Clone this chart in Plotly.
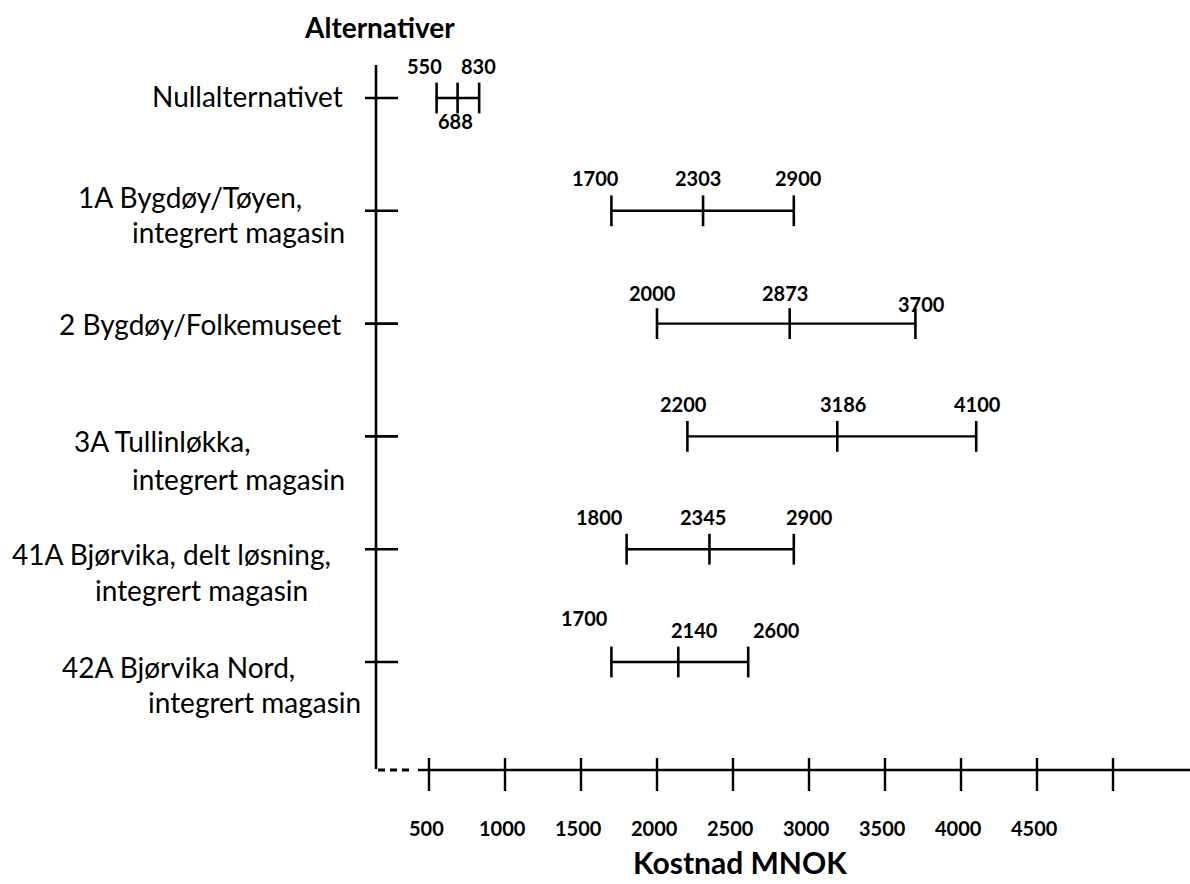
import plotly.graph_objects as go

# ---------------- data ----------------
categories = [
    "Nullalternativet",
    "1A Bygdøy/Tøyen,\nintegrert magasin",
    "2 Bygdøy/Folkemuseet",
    "3A Tullinløkka,\nintegrert magasin",
    "41A Bjørvika, delt løsning,\nintegrert magasin",
    "42A Bjørvika Nord,\nintegrert magasin",
]
low_cost = [550, 1700, 2000, 2200, 1800, 1700]
expected_cost = [688, 2303, 2873, 3186, 2345, 2140]
high_cost = [830, 2900, 3700, 4100, 2900, 2600]

x_tickvals = [500, 1000, 1500, 2000, 2500, 3000, 3500, 4000, 4500, 5000]
x_ticktext = ["500", "1000", "1500", "2000", "2500", "3000", "3500", "4000", "4500", ""]

title_y = "Alternativer"
title_x = "Kostnad MNOK"

# ---------------- layout / style ----------------
W, H = 1190, 884
X0_PX, PX_PER_UNIT = 353.0, 0.152          # pixel of value 0, pixels per MNOK
ROW0_PX, ROW_STEP_PX = 98.0, 112.8         # pixel of first row, spacing
FONT = "Lato"
BLACK = "#000000"

x_range = [-X0_PX / PX_PER_UNIT, (W - X0_PX) / PX_PER_UNIT]
y_range = [(H - ROW0_PX) / ROW_STEP_PX, -ROW0_PX / ROW_STEP_PX]   # reversed


def px(xp):
    return xp / W


def py(yp):
    return 1 - yp / H


# per-line label placement (right edge px, vertical shift px)
label_right = [[345], [304, 347], [343], [253, 347], [333, 310], [297, 363]]
label_shift = [[2], [14, -21], [0], [-5, -43], [-5, -41], [-5, -40]]

# value label offsets relative to their tick: (low, expected, high)
val_dx = [(-12, -2, -1), (-16, -5, 5), (-5, -5, 6), (-4, 6, 1), (-27, -6, 16), (-27, 16, 28)]
val_dy = [(32, -23, 32), (33, 33, 33), (31, 31, 20), (32, 32, 32), (32, 32, 32), (44, 32, 32)]

fig = go.Figure()

rows = list(range(len(categories)))
for i in rows:
    fig.add_trace(go.Scatter(
        x=[low_cost[i], high_cost[i]], y=[i, i], mode="lines",
        line=dict(color=BLACK, width=2.4), hoverinfo="skip", showlegend=False))
    fig.add_trace(go.Scatter(
        x=[low_cost[i], expected_cost[i], high_cost[i]], y=[i, i, i], mode="markers",
        marker=dict(symbol="line-ns", size=22, line=dict(color=BLACK, width=2.6)),
        showlegend=False))

shapes = []
# vertical (category) axis
shapes.append(dict(type="line", xref="paper", yref="paper",
                   x0=px(376), x1=px(376), y0=py(65), y1=py(769),
                   line=dict(color=BLACK, width=2.6)))
# category ticks
for i in rows:
    shapes.append(dict(type="line", xref="paper", yref="y",
                       x0=px(365), x1=px(398), y0=i, y1=i,
                       line=dict(color=BLACK, width=2.6)))
# horizontal (cost) axis: dashed stub + solid line
shapes.append(dict(type="line", xref="paper", yref="paper",
                   x0=px(378), x1=px(412), y0=py(770), y1=py(770),
                   line=dict(color=BLACK, width=2.8, dash="7px,5px")))
shapes.append(dict(type="line", xref="paper", yref="paper",
                   x0=px(418), x1=px(1190), y0=py(770), y1=py(770),
                   line=dict(color=BLACK, width=2.6)))
for v in x_tickvals:
    shapes.append(dict(type="line", xref="x", yref="paper",
                       x0=v, x1=v, y0=py(758), y1=py(791),
                       line=dict(color=BLACK, width=2.4)))

annotations = []
# category labels
for i, cat in enumerate(categories):
    for j, line in enumerate(cat.split("\n")):
        annotations.append(dict(
            text=line, xref="paper", yref="y", x=px(label_right[i][j]), y=i,
            xanchor="right", yanchor="middle", yshift=label_shift[i][j],
            showarrow=False, font=dict(family=FONT, size=28, color=BLACK)))
# value labels
for i in rows:
    for k, v in enumerate([low_cost[i], expected_cost[i], high_cost[i]]):
        annotations.append(dict(
            text=f"<b>{v}</b>", xref="x", yref="y", x=v, y=i,
            xanchor="center", yanchor="middle",
            xshift=val_dx[i][k], yshift=val_dy[i][k],
            showarrow=False, font=dict(family=FONT, size=20, color=BLACK)))
# x tick labels
for v, t in zip(x_tickvals, x_ticktext):
    if t:
        annotations.append(dict(
            text=f"<b>{t}</b>", xref="x", yref="paper", x=v, y=py(828),
            xanchor="center", yanchor="middle", xshift=-3,
            showarrow=False, font=dict(family=FONT, size=20, color=BLACK)))
# axis titles
annotations.append(dict(text=f"<b>{title_y}</b>", xref="paper", yref="paper",
                        x=px(380), y=py(27), xanchor="center", yanchor="middle",
                        showarrow=False, font=dict(family=FONT, size=28, color=BLACK)))
annotations.append(dict(text=f"<b>{title_x}</b>", xref="paper", yref="paper",
                        x=px(740), y=py(862), xanchor="center", yanchor="middle",
                        showarrow=False, font=dict(family=FONT, size=30, color=BLACK)))

fig.update_layout(
    width=W, height=H,
    margin=dict(l=0, r=0, t=0, b=0),
    paper_bgcolor="white", plot_bgcolor="white",
    xaxis=dict(range=x_range, visible=False, fixedrange=True),
    yaxis=dict(range=y_range, visible=False, fixedrange=True),
    shapes=shapes, annotations=annotations,
    showlegend=False, hovermode=False,
)

fig.write_html("out.html", config={"displayModeBar": False},
               post_script="document.body.style.margin='0px';")
